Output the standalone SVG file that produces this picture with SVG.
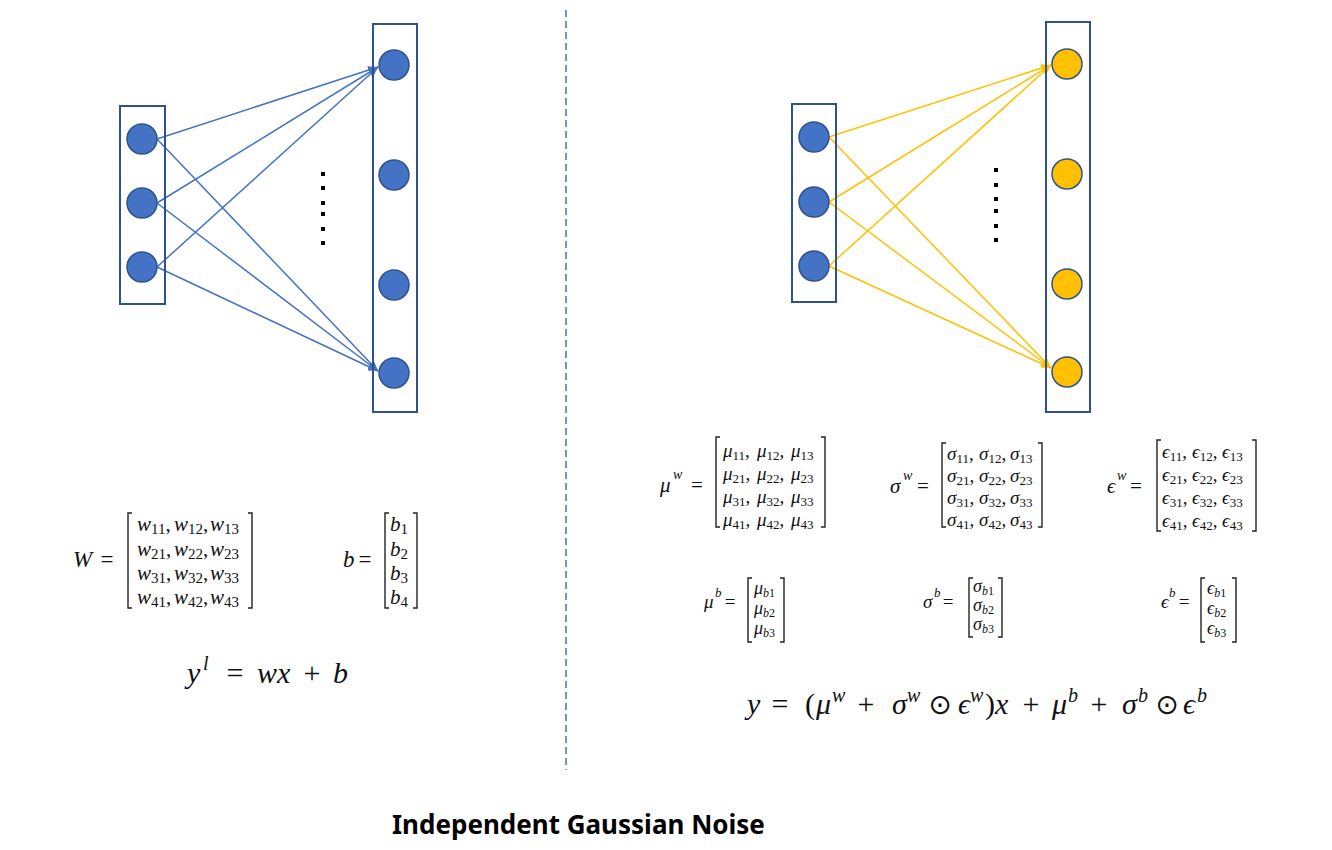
<svg xmlns="http://www.w3.org/2000/svg" width="1332" height="850" viewBox="0 0 1332 850">
<style>
.box{fill:none;stroke:#2F528F;stroke-width:2}
.nb{fill:#4472C4;stroke:#2F528F;stroke-width:1.5}
.ny{fill:#FFC000;stroke:#2F528F;stroke-width:1.5}
.eb{stroke:#4472C4;stroke-width:1.5;fill:none;marker-end:url(#ab)}
.ey{stroke:#FFC000;stroke-width:1.5;fill:none;marker-end:url(#ay)}
.br{fill:none;stroke:#222;stroke-width:1.4}
.m{font-family:"Liberation Serif",serif;fill:#111}
.i{font-style:italic}
.c{text-anchor:middle}
.o{font-family:"DejaVu Sans",sans-serif}
.t{font-family:"Noto Sans","Liberation Sans",sans-serif;font-weight:bold;font-size:26px;fill:#000}
</style>
<defs>
<marker id="ab" markerWidth="10" markerHeight="8" refX="10" refY="4" orient="auto" markerUnits="userSpaceOnUse"><path d="M0,0 L10,4 L0,8 z" fill="#4472C4"/></marker>
<marker id="ay" markerWidth="10" markerHeight="8" refX="10" refY="4" orient="auto" markerUnits="userSpaceOnUse"><path d="M0,0 L10,4 L0,8 z" fill="#FFC000"/></marker>
</defs>
<rect width="1332" height="850" fill="#fff"/>

<line x1="566" y1="10" x2="566" y2="770" stroke="#4472C4" stroke-width="1.5" stroke-dasharray="7 4"/>

<g id="connectors">
<path class="eb" d="M157,139 L378,67"/>
<path class="eb" d="M157,203 L378,67"/>
<path class="eb" d="M157,267 L378,67"/>
<path class="eb" d="M157,139 L378,371"/>
<path class="eb" d="M157,203 L378,371"/>
<path class="eb" d="M157,267 L378,371"/>
<path class="ey" d="M829,137 L1051,65"/>
<path class="ey" d="M829,202 L1051,65"/>
<path class="ey" d="M829,266 L1051,65"/>
<path class="ey" d="M829,137 L1051,368"/>
<path class="ey" d="M829,202 L1051,368"/>
<path class="ey" d="M829,266 L1051,368"/>
</g>

<g id="left-input-layer"><rect class="box" x="120" y="106" width="45" height="198"/>
<circle class="nb" cx="142" cy="139" r="15"/><circle class="nb" cx="142" cy="203" r="15"/><circle class="nb" cx="142" cy="267" r="15"/></g>
<g id="left-output-layer"><rect class="box" x="373" y="24" width="44" height="388"/>
<circle class="nb" cx="394" cy="65" r="15"/><circle class="nb" cx="394" cy="175" r="15"/><circle class="nb" cx="394" cy="285" r="15"/><circle class="nb" cx="394" cy="373" r="15"/></g>
<g id="left-dots" fill="#000"><rect x="321" y="172" width="4" height="4"/><rect x="321" y="186" width="4" height="4"/><rect x="321" y="201" width="4" height="4"/><rect x="321" y="212" width="4" height="4"/><rect x="321" y="227" width="4" height="4"/><rect x="321" y="241" width="4" height="4"/></g>

<g id="right-input-layer"><rect class="box" x="792" y="104" width="44" height="198"/>
<circle class="nb" cx="814" cy="137" r="15"/><circle class="nb" cx="814" cy="202" r="15"/><circle class="nb" cx="814" cy="266" r="15"/></g>
<g id="right-output-layer"><rect class="box" x="1046" y="22" width="44" height="390"/>
<circle class="ny" cx="1067" cy="64" r="15"/><circle class="ny" cx="1067" cy="174" r="15"/><circle class="ny" cx="1067" cy="284" r="15"/><circle class="ny" cx="1067" cy="372" r="15"/></g>
<g id="right-dots" fill="#000"><rect x="994" y="168" width="4" height="4"/><rect x="994" y="183" width="4" height="4"/><rect x="994" y="197" width="4" height="4"/><rect x="994" y="209" width="4" height="4"/><rect x="994" y="224" width="4" height="4"/><rect x="994" y="238" width="4" height="4"/></g>

<g id="W-matrix" class="m" font-size="21">
<text y="567" font-size="23"><tspan x="73" class="i">W</tspan><tspan x="107" class="c">=</tspan></text>
<path class="br" d="M132,513 H128 V608 H132 M248,513 H252 V608 H248"/>
<text y="531"><tspan x="137" class="i">w</tspan><tspan font-size="15" dy="3">11</tspan><tspan dy="-3">,</tspan><tspan x="174" class="i">w</tspan><tspan font-size="15" dy="3">12</tspan><tspan dy="-3">,</tspan><tspan x="210" class="i">w</tspan><tspan font-size="15" dy="3">13</tspan></text>
<text y="556"><tspan x="137" class="i">w</tspan><tspan font-size="15" dy="3">21</tspan><tspan dy="-3">,</tspan><tspan x="174" class="i">w</tspan><tspan font-size="15" dy="3">22</tspan><tspan dy="-3">,</tspan><tspan x="210" class="i">w</tspan><tspan font-size="15" dy="3">23</tspan></text>
<text y="580"><tspan x="137" class="i">w</tspan><tspan font-size="15" dy="3">31</tspan><tspan dy="-3">,</tspan><tspan x="174" class="i">w</tspan><tspan font-size="15" dy="3">32</tspan><tspan dy="-3">,</tspan><tspan x="210" class="i">w</tspan><tspan font-size="15" dy="3">33</tspan></text>
<text y="604"><tspan x="137" class="i">w</tspan><tspan font-size="15" dy="3">41</tspan><tspan dy="-3">,</tspan><tspan x="174" class="i">w</tspan><tspan font-size="15" dy="3">42</tspan><tspan dy="-3">,</tspan><tspan x="210" class="i">w</tspan><tspan font-size="15" dy="3">43</tspan></text>
</g>

<g id="b-vector" class="m" font-size="21">
<text y="567" font-size="23"><tspan x="343" class="i">b</tspan><tspan x="365" class="c">=</tspan></text>
<path class="br" d="M389,513 H385 V608 H389 M413,513 H417 V608 H413"/>
<text x="390" y="531"><tspan class="i">b</tspan><tspan font-size="15" dy="3">1</tspan></text>
<text x="390" y="556"><tspan class="i">b</tspan><tspan font-size="15" dy="3">2</tspan></text>
<text x="390" y="580"><tspan class="i">b</tspan><tspan font-size="15" dy="3">3</tspan></text>
<text x="390" y="604"><tspan class="i">b</tspan><tspan font-size="15" dy="3">4</tspan></text>
</g>

<g id="left-formula" class="m" font-size="30">
<text y="683"><tspan x="187" class="i">y</tspan><tspan x="203" y="670" class="i" font-size="20">l</tspan><tspan x="235" y="683" class="c">=</tspan><tspan x="257" class="i">wx</tspan><tspan x="312" class="c">+</tspan><tspan x="333" class="i">b</tspan></text>
</g>

<g id="mu-w-matrix" class="m" font-size="19">
<text y="492" font-size="21"><tspan x="660" class="i">μ</tspan><tspan x="673" y="479" class="i" font-size="14">w</tspan><tspan x="697" y="492" class="c">=</tspan></text>
<path class="br" d="M720,437 H716 V527 H720 M821,437 H825 V527 H821"/>
<text y="457"><tspan x="723" class="i">μ</tspan><tspan font-size="13" dy="3">11</tspan><tspan dy="-3">,</tspan><tspan x="757" class="i">μ</tspan><tspan font-size="13" dy="3">12</tspan><tspan dy="-3">,</tspan><tspan x="791" class="i">μ</tspan><tspan font-size="13" dy="3">13</tspan></text>
<text y="480"><tspan x="723" class="i">μ</tspan><tspan font-size="13" dy="3">21</tspan><tspan dy="-3">,</tspan><tspan x="757" class="i">μ</tspan><tspan font-size="13" dy="3">22</tspan><tspan dy="-3">,</tspan><tspan x="791" class="i">μ</tspan><tspan font-size="13" dy="3">23</tspan></text>
<text y="503"><tspan x="723" class="i">μ</tspan><tspan font-size="13" dy="3">31</tspan><tspan dy="-3">,</tspan><tspan x="757" class="i">μ</tspan><tspan font-size="13" dy="3">32</tspan><tspan dy="-3">,</tspan><tspan x="791" class="i">μ</tspan><tspan font-size="13" dy="3">33</tspan></text>
<text y="526"><tspan x="723" class="i">μ</tspan><tspan font-size="13" dy="3">41</tspan><tspan dy="-3">,</tspan><tspan x="757" class="i">μ</tspan><tspan font-size="13" dy="3">42</tspan><tspan dy="-3">,</tspan><tspan x="791" class="i">μ</tspan><tspan font-size="13" dy="3">43</tspan></text>
</g>

<g id="sigma-w-matrix" class="m" font-size="19">
<text y="493" font-size="21"><tspan x="890" class="i">σ</tspan><tspan x="903" y="480" class="i" font-size="14">w</tspan><tspan x="923" y="493" class="c">=</tspan></text>
<path class="br" d="M946,443 H942 V527 H946 M1038,443 H1042 V527 H1038"/>
<text y="460"><tspan x="947" class="i">σ</tspan><tspan font-size="13" dy="3">11</tspan><tspan dy="-3">,</tspan><tspan x="979" class="i">σ</tspan><tspan font-size="13" dy="3">12</tspan><tspan dy="-3">,</tspan><tspan x="1010" class="i">σ</tspan><tspan font-size="13" dy="3">13</tspan></text>
<text y="482"><tspan x="947" class="i">σ</tspan><tspan font-size="13" dy="3">21</tspan><tspan dy="-3">,</tspan><tspan x="979" class="i">σ</tspan><tspan font-size="13" dy="3">22</tspan><tspan dy="-3">,</tspan><tspan x="1010" class="i">σ</tspan><tspan font-size="13" dy="3">23</tspan></text>
<text y="504"><tspan x="947" class="i">σ</tspan><tspan font-size="13" dy="3">31</tspan><tspan dy="-3">,</tspan><tspan x="979" class="i">σ</tspan><tspan font-size="13" dy="3">32</tspan><tspan dy="-3">,</tspan><tspan x="1010" class="i">σ</tspan><tspan font-size="13" dy="3">33</tspan></text>
<text y="526"><tspan x="947" class="i">σ</tspan><tspan font-size="13" dy="3">41</tspan><tspan dy="-3">,</tspan><tspan x="979" class="i">σ</tspan><tspan font-size="13" dy="3">42</tspan><tspan dy="-3">,</tspan><tspan x="1010" class="i">σ</tspan><tspan font-size="13" dy="3">43</tspan></text>
</g>

<g id="eps-w-matrix" class="m" font-size="19">
<text y="493" font-size="21"><tspan x="1107" class="i">ϵ</tspan><tspan x="1117" y="480" class="i" font-size="14">w</tspan><tspan x="1136" y="493" class="c">=</tspan></text>
<path class="br" d="M1161,440 H1157 V531 H1161 M1252,440 H1256 V531 H1252"/>
<text y="458"><tspan x="1162" class="i">ϵ</tspan><tspan font-size="13" dy="3">11</tspan><tspan dy="-3">,</tspan><tspan x="1192" class="i">ϵ</tspan><tspan font-size="13" dy="3">12</tspan><tspan dy="-3">,</tspan><tspan x="1222" class="i">ϵ</tspan><tspan font-size="13" dy="3">13</tspan></text>
<text y="481"><tspan x="1162" class="i">ϵ</tspan><tspan font-size="13" dy="3">21</tspan><tspan dy="-3">,</tspan><tspan x="1192" class="i">ϵ</tspan><tspan font-size="13" dy="3">22</tspan><tspan dy="-3">,</tspan><tspan x="1222" class="i">ϵ</tspan><tspan font-size="13" dy="3">23</tspan></text>
<text y="504"><tspan x="1162" class="i">ϵ</tspan><tspan font-size="13" dy="3">31</tspan><tspan dy="-3">,</tspan><tspan x="1192" class="i">ϵ</tspan><tspan font-size="13" dy="3">32</tspan><tspan dy="-3">,</tspan><tspan x="1222" class="i">ϵ</tspan><tspan font-size="13" dy="3">33</tspan></text>
<text y="527"><tspan x="1162" class="i">ϵ</tspan><tspan font-size="13" dy="3">41</tspan><tspan dy="-3">,</tspan><tspan x="1192" class="i">ϵ</tspan><tspan font-size="13" dy="3">42</tspan><tspan dy="-3">,</tspan><tspan x="1222" class="i">ϵ</tspan><tspan font-size="13" dy="3">43</tspan></text>
</g>

<g id="mu-b-vector" class="m" font-size="18">
<text y="608" font-size="19"><tspan x="704" class="i">μ</tspan><tspan x="715" y="597" class="i" font-size="13">b</tspan><tspan x="730" y="608" class="c">=</tspan></text>
<path class="br" d="M752,578 H748 V642 H752 M780,578 H784 V642 H780"/>
<text x="754" y="594"><tspan class="i">μ</tspan><tspan font-size="12" dy="3"><tspan class="i">b</tspan>1</tspan></text>
<text x="754" y="614"><tspan class="i">μ</tspan><tspan font-size="12" dy="3"><tspan class="i">b</tspan>2</tspan></text>
<text x="754" y="634"><tspan class="i">μ</tspan><tspan font-size="12" dy="3"><tspan class="i">b</tspan>3</tspan></text>
</g>

<g id="sigma-b-vector" class="m" font-size="18">
<text y="608" font-size="19"><tspan x="923" class="i">σ</tspan><tspan x="934" y="597" class="i" font-size="13">b</tspan><tspan x="948" y="608" class="c">=</tspan></text>
<path class="br" d="M973,578 H969 V637 H973 M998,578 H1002 V637 H998"/>
<text x="973" y="592"><tspan class="i">σ</tspan><tspan font-size="12" dy="3"><tspan class="i">b</tspan>1</tspan></text>
<text x="973" y="611"><tspan class="i">σ</tspan><tspan font-size="12" dy="3"><tspan class="i">b</tspan>2</tspan></text>
<text x="973" y="630"><tspan class="i">σ</tspan><tspan font-size="12" dy="3"><tspan class="i">b</tspan>3</tspan></text>
</g>

<g id="eps-b-vector" class="m" font-size="18">
<text y="608" font-size="19"><tspan x="1161" class="i">ϵ</tspan><tspan x="1169" y="597" class="i" font-size="13">b</tspan><tspan x="1184" y="608" class="c">=</tspan></text>
<path class="br" d="M1205,578 H1201 V642 H1205 M1232,578 H1236 V642 H1232"/>
<text x="1207" y="594"><tspan class="i">ϵ</tspan><tspan font-size="12" dy="3"><tspan class="i">b</tspan>1</tspan></text>
<text x="1207" y="614"><tspan class="i">ϵ</tspan><tspan font-size="12" dy="3"><tspan class="i">b</tspan>2</tspan></text>
<text x="1207" y="634"><tspan class="i">ϵ</tspan><tspan font-size="12" dy="3"><tspan class="i">b</tspan>3</tspan></text>
</g>

<g id="right-formula" class="m" font-size="30">
<text y="714"><tspan x="747" class="i">y</tspan><tspan x="780" class="c">=</tspan><tspan x="805">(</tspan><tspan x="816" class="i">μ</tspan><tspan x="832" y="702" class="i" font-size="20">w</tspan><tspan x="866" y="714" class="c">+</tspan><tspan x="892" class="i">σ</tspan><tspan x="907" y="702" class="i" font-size="20">w</tspan><tspan x="940" y="714" class="c o" font-size="28">⊙</tspan><tspan x="958" class="i">ϵ</tspan><tspan x="970" y="702" class="i" font-size="20">w</tspan><tspan x="985" y="714">)</tspan><tspan x="995" class="i">x</tspan><tspan x="1031" class="c">+</tspan><tspan x="1052" class="i">μ</tspan><tspan x="1068" y="702" class="i" font-size="20">b</tspan><tspan x="1099" y="714" class="c">+</tspan><tspan x="1122" class="i">σ</tspan><tspan x="1138" y="702" class="i" font-size="20">b</tspan><tspan x="1167" y="714" class="c o" font-size="28">⊙</tspan><tspan x="1183" class="i">ϵ</tspan><tspan x="1197" y="702" class="i" font-size="20">b</tspan></text>
</g>

<g id="title"><text class="t" x="392" y="834">Independent Gaussian Noise</text></g>
</svg>
